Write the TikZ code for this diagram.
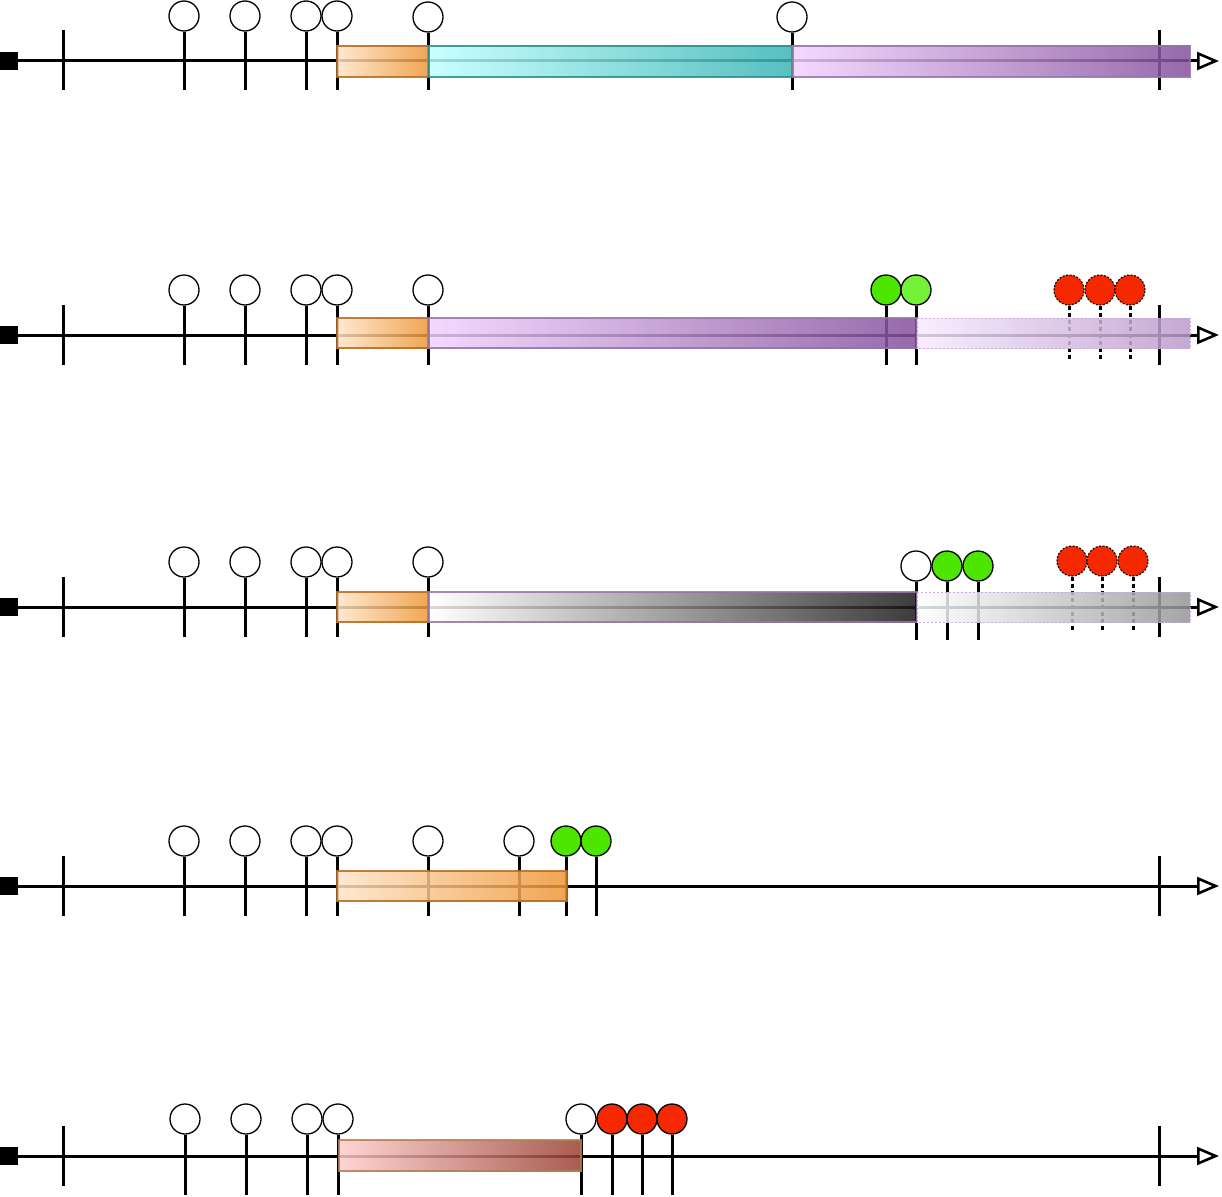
\documentclass[tikz,border=0pt]{standalone}
\usetikzlibrary{arrows.meta}
\definecolor{orL}{HTML}{FFE4C8}
\definecolor{orR}{HTML}{EE9636}
\definecolor{orD}{HTML}{B46A20}
\definecolor{cyL}{HTML}{C0FFFF}
\definecolor{cyR}{HTML}{3AB4B4}
\definecolor{cyD}{HTML}{2A8C8C}
\definecolor{puL}{HTML}{F2D2FF}
\definecolor{puR}{HTML}{84509C}
\definecolor{puD}{HTML}{9673A6}
\definecolor{fpL}{HTML}{F8EAFF}
\definecolor{fpR}{HTML}{BA9ACB}
\definecolor{fpD}{HTML}{C8A8DC}
\definecolor{grR}{HTML}{1A1A1A}
\definecolor{fgR}{HTML}{959595}
\definecolor{rdL}{HTML}{FFCCCC}
\definecolor{rdR}{HTML}{9A4032}
\definecolor{rdD}{HTML}{B08050}
\definecolor{gnA}{HTML}{4CE600}
\definecolor{gnB}{HTML}{74F23A}
\definecolor{redP}{HTML}{F52800}
\tikzset{
  axisline/.style={line width=3pt, -{Triangle[open,length=22pt,width=18pt,line width=2.6pt]}},
  startsq/.style={rectangle, fill=black, draw=none, minimum size=18pt, inner sep=0pt},
  tickline/.style={line width=3pt},
  stemline/.style={line width=3pt},
  dstem/.style={line width=3pt, dash pattern=on 4pt off 3pt},
  pin/.style={circle, draw=black, line width=1.3pt, minimum size=30pt, inner sep=0pt, fill=white},
  gpin/.style={pin, fill=gnA},
  gpinB/.style={pin, fill=gnB},
  rpin/.style={pin, fill=redP},
  rdpin/.style={pin, fill=redP, line width=1.1pt, dash pattern=on 2pt off 1.5pt},
  barbox/.style={line width=1.3pt, fill opacity=0.85, draw opacity=0.85},
  fadebox/.style={line width=1pt, fill opacity=0.85, draw opacity=0.9, dash pattern=on 2pt off 2pt},
}
\begin{document}
\begin{tikzpicture}[x=1pt,y=-1pt]
\useasboundingbox (0,0) rectangle (1222,1196);

% ================= Row 1 =================
\node[startsq] (s1) at (9,61) {};
\coordinate (e1) at (1219,61);
\draw[axisline] (s1) -- (e1);
\foreach \x/\n in {63/a,1159/b}{
  \coordinate (t1\n u) at (\x,30); \coordinate (t1\n d) at (\x,90);
  \draw[tickline] (t1\n u) -- (t1\n d);}
\foreach \x/\cy/\n in {184/16/a,245/16/b,306/16/c,337/16/d,428/17/e,792/17/f}{
  \node[pin] (p1\n) at (\x,\cy) {};
  \coordinate (q1\n) at (\x,90);
  \draw[stemline] (p1\n) -- (q1\n);}
\shade[barbox, draw=orD, left color=orL, right color=orR] (337,46) rectangle (429,77);
\shade[barbox, draw=cyD, left color=cyL, right color=cyR] (429,46) rectangle (793,77);
\shade[barbox, draw=puD, left color=puL, right color=puR] (793,46) rectangle (1190,77);

% ================= Row 2 =================
\node[startsq] (s2) at (9,335) {};
\coordinate (e2) at (1219,335);
\draw[axisline] (s2) -- (e2);
\foreach \x/\n in {63/a,1159/b}{
  \coordinate (t2\n u) at (\x,305); \coordinate (t2\n d) at (\x,365);
  \draw[tickline] (t2\n u) -- (t2\n d);}
\foreach \x/\n in {184/a,245/b,306/c,337/d,428/e}{
  \node[pin] (p2\n) at (\x,290) {};
  \coordinate (q2\n) at (\x,365);
  \draw[stemline] (p2\n) -- (q2\n);}
\node[gpin] (p2f) at (886,290) {};
\coordinate (q2f) at (886,365);
\draw[stemline] (p2f) -- (q2f);
\node[gpinB] (p2g) at (916,290) {};
\coordinate (q2g) at (916,365);
\draw[stemline] (p2g) -- (q2g);
\foreach \x/\n in {1069/h,1100/i,1130/j}{
  \node[rdpin] (p2\n) at (\x,290) {};
  \coordinate (q2\n) at (\x,360);
  \draw[dstem] (p2\n) -- (q2\n);}
\shade[barbox, draw=orD, left color=orL, right color=orR] (337,318) rectangle (429,348);
\shade[barbox, draw=puD, left color=puL, right color=puR] (429,318) rectangle (917,348);
\shade[fadebox, draw=fpD, left color=fpL, right color=fpR] (917,318) rectangle (1190,348);

% ================= Row 3 =================
\node[startsq] (s3) at (9,607) {};
\coordinate (e3) at (1219,607);
\draw[axisline] (s3) -- (e3);
\foreach \x/\n in {63/a,1159/b}{
  \coordinate (t3\n u) at (\x,577); \coordinate (t3\n d) at (\x,637);
  \draw[tickline] (t3\n u) -- (t3\n d);}
\foreach \x/\n in {184/a,245/b,306/c,337/d,428/e}{
  \node[pin] (p3\n) at (\x,562) {};
  \coordinate (q3\n) at (\x,637);
  \draw[stemline] (p3\n) -- (q3\n);}
\node[pin] (p3f) at (916,566) {};
\coordinate (q3f) at (916,640);
\draw[stemline] (p3f) -- (q3f);
\foreach \x/\n in {947/g,978/h}{
  \node[gpin] (p3\n) at (\x,566) {};
  \coordinate (q3\n) at (\x,640);
  \draw[stemline] (p3\n) -- (q3\n);}
\foreach \x/\n in {1072/i,1102/j,1133/k}{
  \node[rdpin] (p3\n) at (\x,561) {};
  \coordinate (q3\n) at (\x,631);
  \draw[dstem] (p3\n) -- (q3\n);}
\shade[barbox, draw=orD, left color=orL, right color=orR] (337,592) rectangle (429,622);
\shade[barbox, draw=puD, left color=white, right color=grR] (429,592) rectangle (917,622);
\shade[fadebox, draw=fpD, left color=white, right color=fgR] (917,592) rectangle (1190,622);

% ================= Row 4 =================
\node[startsq] (s4) at (9,886) {};
\coordinate (e4) at (1219,886);
\draw[axisline] (s4) -- (e4);
\foreach \x/\n in {63/a,1159/b}{
  \coordinate (t4\n u) at (\x,856); \coordinate (t4\n d) at (\x,916);
  \draw[tickline] (t4\n u) -- (t4\n d);}
\foreach \x/\n in {184/a,245/b,306/c,337/d,428/e,519/f}{
  \node[pin] (p4\n) at (\x,841) {};
  \coordinate (q4\n) at (\x,916);
  \draw[stemline] (p4\n) -- (q4\n);}
\foreach \x/\n in {566/g,596/h}{
  \node[gpin] (p4\n) at (\x,841) {};
  \coordinate (q4\n) at (\x,916);
  \draw[stemline] (p4\n) -- (q4\n);}
\shade[barbox, draw=orD, left color=orL, right color=orR] (337,871) rectangle (567,901);

% ================= Row 5 =================
\node[startsq] (s5) at (9,1156) {};
\coordinate (e5) at (1219,1156);
\draw[axisline] (s5) -- (e5);
\foreach \x/\n in {63/a,1159/b}{
  \coordinate (t5\n u) at (\x,1126); \coordinate (t5\n d) at (\x,1186);
  \draw[tickline] (t5\n u) -- (t5\n d);}
\foreach \x/\n in {185/a,246/b,307/c,338/d,581/e}{
  \node[pin] (p5\n) at (\x,1119) {};
  \coordinate (q5\n) at (\x,1195);
  \draw[stemline] (p5\n) -- (q5\n);}
\foreach \x/\n in {612/f,642/g,672/h}{
  \node[rpin] (p5\n) at (\x,1119) {};
  \coordinate (q5\n) at (\x,1195);
  \draw[stemline] (p5\n) -- (q5\n);}
\shade[barbox, draw=rdD, left color=rdL, right color=rdR] (339,1140) rectangle (581,1171);
\end{tikzpicture}
\end{document}
